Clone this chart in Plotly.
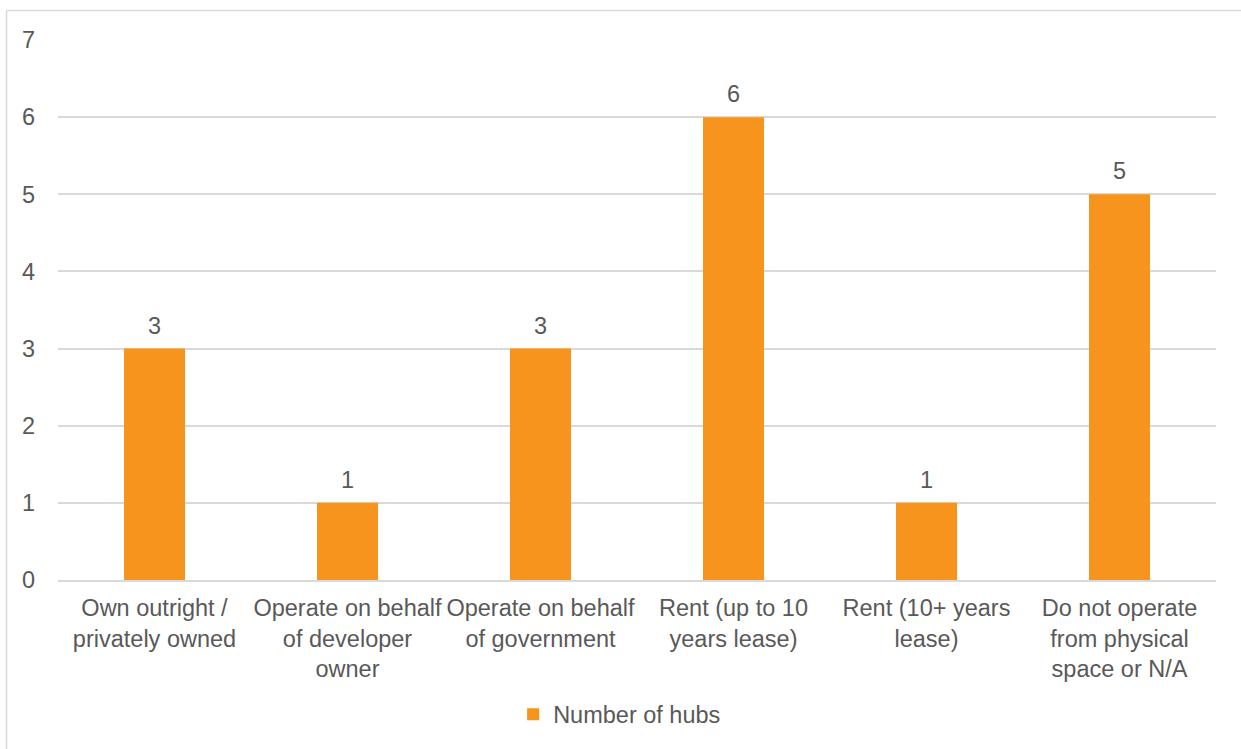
import plotly.graph_objects as go

categories = [
    "Own outright /<br>privately owned",
    "Operate on behalf<br>of developer<br>owner",
    "Operate on behalf<br>of government",
    "Rent (up to 10<br>years lease)",
    "Rent (10+ years<br>lease)",
    "Do not operate<br>from physical<br>space or N/A",
]
hubs = [3, 1, 3, 6, 1, 5]
y_ticks = [0, 1, 2, 3, 4, 5, 6, 7]
series_name = "Number of hubs"

BAR = "#F7941D"
TXT = "#595959"
GRID = "#D9D9D9"
FONT = "Liberation Sans, Arial, sans-serif"
FS = 23.5

fig = go.Figure()
fig.add_trace(go.Bar(
    x=categories, y=hubs, name=series_name,
    marker=dict(color=BAR, line=dict(width=0)),
    showlegend=True,
))

for c, v in zip(categories, hubs):
    fig.add_annotation(x=c, y=v, text=str(v), showarrow=False,
                       yanchor="bottom", yshift=8,
                       font=dict(family=FONT, size=FS, color=TXT))

W, H = 1241, 749
L, R, T, B = 58, 25, 40, 167
pw = W - L - R
ph = H - T - B
bx = (6.5 - L) / pw
by = 1 + (T - 10.5) / ph
fig.add_shape(type="line", xref="paper", yref="paper",
              x0=bx, x1=bx, y0=by, y1=-0.5,
              line=dict(color=GRID, width=1.5))
fig.add_shape(type="line", xref="paper", yref="paper",
              x0=bx, x1=1.1, y0=by, y1=by,
              line=dict(color=GRID, width=1.5))

fig.update_layout(
    width=W, height=H,
    margin=dict(l=L, r=R, t=T, b=B, pad=0),
    paper_bgcolor="white", plot_bgcolor="white",
    font=dict(family=FONT, size=FS, color=TXT),
    bargap=0.684,
    legend=dict(orientation="h", x=0.485, xanchor="center", y=-0.249, yanchor="middle",
                font=dict(family=FONT, size=FS, color=TXT), itemwidth=30),
    xaxis=dict(showgrid=False, showline=True, linecolor=GRID, linewidth=1.5,
               ticks="", ticklabelstandoff=6,
               tickfont=dict(family=FONT, size=FS, color=TXT), tickangle=0),
    yaxis=dict(range=[0, 7], tickvals=y_ticks, showgrid=True, gridcolor=GRID, gridwidth=1.5,
               zeroline=False, showline=False, ticks="", ticklabelstandoff=22,
               tickfont=dict(family=FONT, size=FS, color=TXT)),
)

fig.write_html("out.html")
